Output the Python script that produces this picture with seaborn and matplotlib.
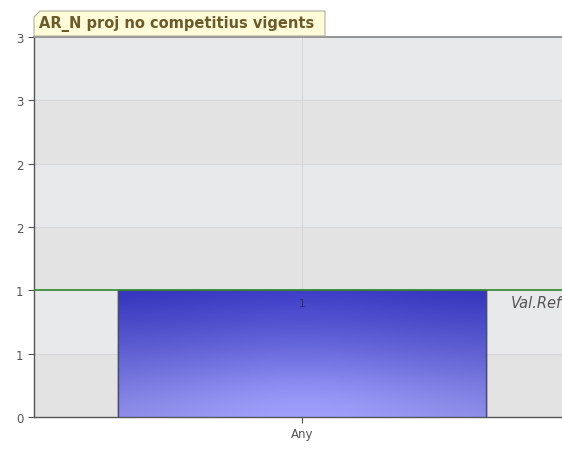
import numpy as np
import pandas as pd
import matplotlib
matplotlib.use("Agg")
import matplotlib.pyplot as plt
import seaborn as sns
from matplotlib.patches import Polygon

categories = ["Any"]
values = [1]
ref_value = 1
ref_label = "Val.Ref"
title = "AR_N proj no competitius vigents"
yticks = [0, 0.5, 1, 1.5, 2, 2.5, 3]
ytick_labels = ["0", "1", "1", "2", "2", "3", "3"]

sns.set_theme(style="white")
plt.rcParams['font.family'] = ['DejaVu Sans']

fig = plt.figure(figsize=(5.62, 4.52), dpi=100)
ax = fig.add_axes([34/562, 1-418/452, (570-34)/562, (418-38)/452])

df = pd.DataFrame({"cat": categories, "val": values})
sns.barplot(data=df, x="cat", y="val", ax=ax, width=0.687, color="#7a7ae8",
            edgecolor="#3a3a6a", linewidth=1.0, zorder=3)

ax.set_ylim(0, 3)
ax.set_xlim(-0.5, 0.5)

# background bands (alternating, gray at bottom)
band_colors = ["#e3e3e3", "#e8e9eb"]
for i in range(len(yticks) - 1):
    ax.axhspan(yticks[i], yticks[i+1], color=band_colors[i % 2], zorder=0, lw=0)
for y in yticks[1:-1]:
    ax.axhline(y, color="#d6d6d6", lw=0.8, zorder=1)
ax.axvline(0, color="#d6d6d6", lw=0.7, zorder=1)

# gradient fill on bar
bar = ax.patches[0]
x0, w = bar.get_x(), bar.get_width()
h = bar.get_height()
ny, nx = 200, 200
yy, xx = np.mgrid[0:1:ny*1j, 0:1:nx*1j]
top = np.array([0.24, 0.24, 0.78])
bot = np.array([0.58, 0.58, 0.93])
t = yy
base = bot[None, None, :] * (1 - t[..., None]) + top[None, None, :] * t[..., None]
glow = np.exp(-(((xx - 0.5) / 0.45) ** 2 + ((yy - 0.15) / 0.35) ** 2))
edge = np.exp(-((xx - 0.5) / 0.35) ** 2)
img = base + 0.06 * glow[..., None] - 0.04 * (1 - edge[..., None])
img = np.clip(img, 0, 1)
im = ax.imshow(img, extent=[x0, x0 + w, 0, h], origin="lower", aspect="auto", zorder=3.5)
im.set_clip_path(bar)
ax.add_patch(plt.Rectangle((x0, 0), w, h, fill=False, edgecolor="#4a4a7a", lw=1.0, zorder=4))

# reference line
ax.axhline(ref_value, color="#2e8b2e", lw=1.2, zorder=5)
ax.text(0.39, ref_value - 0.04, ref_label, fontsize=10.5, style="italic", color="#555555",
        ha="left", va="top", zorder=6)

# value label
for i, v in enumerate(values):
    ax.text(i, v - 0.06, str(v), fontsize=7.5, color="#2a2a80", ha="center", va="top", zorder=6)

ax.set_yticks(yticks)
ax.set_yticklabels(ytick_labels)
ax.tick_params(axis="both", labelsize=8.5, colors="#555555", length=4, width=0.8, left=True, bottom=True)
for lab in ax.get_yticklabels() + ax.get_xticklabels():
    lab.set_color("#555555")
ax.set_xlabel("")
ax.set_ylabel("")
for s in ["left", "bottom"]:
    ax.spines[s].set_color("#555555")
    ax.spines[s].set_linewidth(1.0)
ax.spines["top"].set_color("#888888")
ax.spines["right"].set_visible(False)

# title tag box
x1, x2 = 34/562, 325/562
y1, y2 = 1-37/452, 1-12/452
c = 6/562
cy = 6/452
poly = Polygon([[x1, y1], [x1, y2 - cy], [x1 + c, y2], [x2, y2], [x2, y1]], closed=True,
               transform=fig.transFigure, facecolor="#fdfbd8", edgecolor="#b0b0a0", lw=0.8, zorder=10)
fig.patches.append(poly)
fig.text(39/562, 1-24.5/452, title, fontsize=10.5, fontweight="bold", color="#6b5a2a",
         ha="left", va="center", zorder=11)

fig.savefig("out.png", dpi=100)
